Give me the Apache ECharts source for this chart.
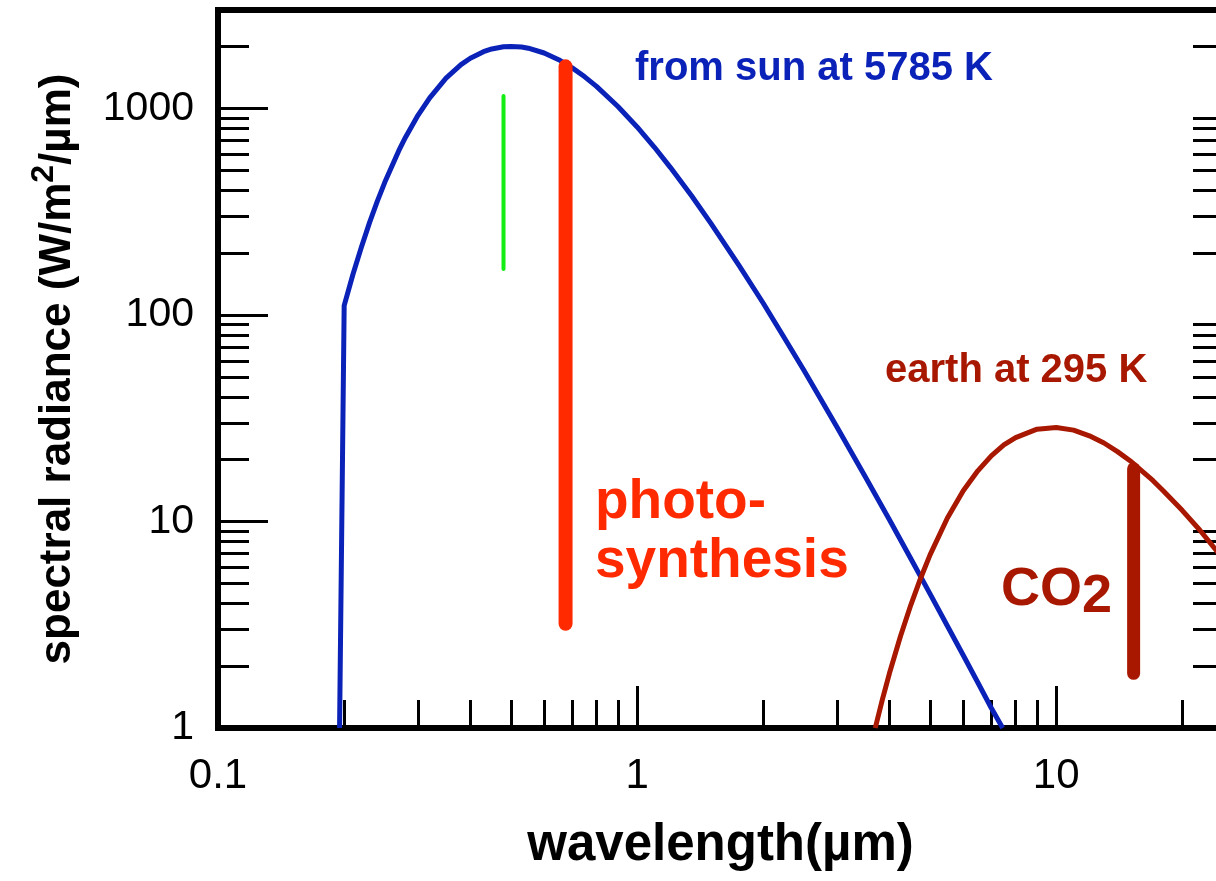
<!DOCTYPE html>
<html><head><meta charset="utf-8">
<script src="https://cdn.jsdelivr.net/npm/echarts@6/dist/echarts.min.js"></script>
<style>html,body{margin:0;padding:0;background:#fff;overflow:hidden}#c{width:1223px;height:881px}</style>
</head><body><div id="c"></div>
<script>
// ---- data ----
const sunWavelength = [0.195, 0.2, 0.21, 0.22, 0.23, 0.24, 0.25, 0.27, 0.28, 0.3, 0.32, 0.35, 0.38, 0.4, 0.43, 0.45, 0.48, 0.5, 0.53, 0.55, 0.6, 0.65, 0.7, 0.75, 0.8, 0.9, 1.0, 1.1, 1.2, 1.35, 1.5, 1.75, 2, 2.25, 2.5, 2.75, 3, 3.5, 4, 4.5, 5, 5.5, 6, 6.5, 7, 7.45];
const sunRadiance   = [1, 111, 158, 214, 281, 356, 439, 625, 724, 927, 1127, 1402, 1631, 1751, 1884, 1943, 1991, 1999, 1984, 1959, 1857, 1723, 1574, 1424, 1280, 1023, 814, 649, 519, 377, 278, 174, 114, 77, 54, 38.8, 28.6, 16.5, 10.2, 6.6, 4.46, 3.12, 2.25, 1.66, 1.25, 1];
const earthWavelength = [3.7, 3.85, 4, 4.25, 4.5, 4.75, 5, 5.5, 6, 6.5, 7, 7.5, 8, 9, 10, 11, 12, 13, 14, 15, 16, 17, 18, 20, 22, 25];
const earthRadiance   = [1, 1.38, 1.84, 2.78, 3.95, 5.33, 6.89, 10.4, 14.1, 17.6, 20.8, 23.5, 25.5, 28, 28.5, 27.7, 26, 24, 21.8, 19.7, 17.6, 15.8, 14.1, 11.3, 9.1, 6.6];
const greenLineX = [0.48, 0.48];
const greenLineY = [167, 1150];
const photoBarX = [0.675, 0.675];
const photoBarY = [3.2, 1600];
const co2BarX = [15.3, 15.3];
const co2BarY = [1.84, 18];
const xMajorTicks = [0.1, 1, 10];
const xTickLabels = ['0.1', '1', '10'];
const xMinorTicks = [0.2, 0.3, 0.4, 0.5, 0.6, 0.7, 0.8, 0.9, 2, 3, 4, 5, 6, 7, 8, 9, 20];
const yMajorTicks = [1, 10, 100, 1000];
const yTickLabels = ['1', '10', '100', '1000'];
const yMinorTicks = [2, 3, 4, 5, 6, 7, 8, 9, 20, 30, 40, 50, 60, 70, 80, 90, 200, 300, 400, 500, 600, 700, 800, 900, 2000, 3000];

const zip = (xs, ys) => xs.map((x, i) => [x, ys[i]]);
const FONT = '"Liberation Sans", Arial, Helvetica, sans-serif';
const BLUE = '#0A22B8', EARTH = '#A81800', PHOTO = '#FF2A00', GREEN = '#14EE14';

const chart = echarts.init(document.getElementById('c'), null, {renderer: 'canvas'});
const hiddenAxisBits = {axisLine: {show: false}, axisLabel: {show: false}, splitLine: {show: false}};
const lbl = (vals, labels) => v => { const i = vals.findIndex(t => Math.abs(t - v) / t < 1e-6); return i >= 0 ? labels[i] : ''; };

chart.setOption({
  animation: false,
  backgroundColor: '#fff',
  grid: {left: 218, top: 10, right: 0, bottom: 153, show: true, borderColor: '#000', borderWidth: 6, backgroundColor: 'transparent'},
  xAxis: [
    {type: 'log', logBase: 10, min: 0.1, max: 25, position: 'bottom',
     axisLine: {show: true, lineStyle: {color: '#000', width: 6}},
     axisTick: {show: true, inside: true, length: 42, lineStyle: {color: '#000', width: 3}, customValues: xMajorTicks},
     axisLabel: {show: true, customValues: xMajorTicks, formatter: lbl(xMajorTicks, xTickLabels), color: '#000', fontSize: 42, fontFamily: FONT, margin: 27},
     splitLine: {show: false},
     name: 'wavelength(\u00b5m)', nameLocation: 'middle', nameGap: 92,
     nameTextStyle: {color: '#000', fontSize: 51, fontWeight: 'bold', fontFamily: FONT}},
    Object.assign({type: 'log', logBase: 10, min: 0.1, max: 25, position: 'bottom',
     axisTick: {show: true, inside: true, length: 28, lineStyle: {color: '#000', width: 3}, customValues: xMinorTicks}}, hiddenAxisBits)
  ],
  yAxis: [
    {type: 'log', logBase: 10, min: 1, max: 3000, position: 'left',
     axisLine: {show: true, lineStyle: {color: '#000', width: 6}},
     axisTick: {show: true, inside: true, length: 50, lineStyle: {color: '#000', width: 3}, customValues: yMajorTicks},
     axisLabel: {show: true, customValues: yMajorTicks, formatter: lbl(yMajorTicks, yTickLabels), color: '#000', fontSize: 41, fontFamily: FONT, margin: 24},
     splitLine: {show: false},
     name: 'spectral radiance (W/m{sup|2}/\u00b5m)', nameLocation: 'middle', nameGap: 130,
     nameTextStyle: {color: '#000', fontSize: 44, fontWeight: 'bold', fontFamily: FONT,
       rich: {sup: {fontSize: 32, fontWeight: 'bold', fontFamily: FONT, color: '#000', verticalAlign: 'top', padding: [0, 0, 28, 0]}}}},
    Object.assign({type: 'log', logBase: 10, min: 1, max: 3000, position: 'left',
     axisTick: {show: true, inside: true, length: 31, lineStyle: {color: '#000', width: 3}, customValues: yMinorTicks}}, hiddenAxisBits),
    Object.assign({type: 'log', logBase: 10, min: 1, max: 3000, position: 'right',
     axisTick: {show: true, inside: true, length: 30, lineStyle: {color: '#000', width: 3}, customValues: yMinorTicks}}, hiddenAxisBits)
  ],
  series: [
    {type: 'line', name: 'sun', data: zip(sunWavelength, sunRadiance), showSymbol: false, smooth: false,
     lineStyle: {color: BLUE, width: 5, join: 'round'}, z: 2},
    {type: 'line', name: 'earth', data: zip(earthWavelength, earthRadiance), showSymbol: false, smooth: false,
     lineStyle: {color: EARTH, width: 5, join: 'round'}, z: 2},
    {type: 'line', name: 'green', data: zip(greenLineX, greenLineY), showSymbol: false,
     lineStyle: {color: GREEN, width: 4, cap: 'round'}, z: 3},
    {type: 'line', name: 'photosynthesis', data: zip(photoBarX, photoBarY), showSymbol: false,
     lineStyle: {color: PHOTO, width: 14, cap: 'round'}, z: 3},
    {type: 'line', name: 'CO2', data: zip(co2BarX, co2BarY), showSymbol: false,
     lineStyle: {color: EARTH, width: 13, cap: 'round'}, z: 3}
  ],
  graphic: [
    {type: 'text', x: 635, y: 69, style: {text: 'from sun at 5785 K', fill: BLUE, font: 'bold 40px ' + FONT, textVerticalAlign: 'middle'}},
    {type: 'text', x: 885, y: 371, style: {text: 'earth at 295 K', fill: EARTH, font: 'bold 40px ' + FONT, textVerticalAlign: 'middle'}},
    {type: 'text', x: 595, y: 503, style: {text: 'photo-', fill: PHOTO, font: 'bold 55px ' + FONT, textVerticalAlign: 'middle'}},
    {type: 'text', x: 595, y: 562, style: {text: 'synthesis', fill: PHOTO, font: 'bold 55px ' + FONT, textVerticalAlign: 'middle'}},
    {type: 'text', x: 1001, y: 590, style: {text: 'CO', fill: EARTH, font: 'bold 54px ' + FONT, textVerticalAlign: 'middle'}},
    {type: 'text', x: 1082, y: 597, style: {text: '2', fill: EARTH, font: 'bold 54px ' + FONT, textVerticalAlign: 'middle'}}
  ]
});
</script></body></html>
